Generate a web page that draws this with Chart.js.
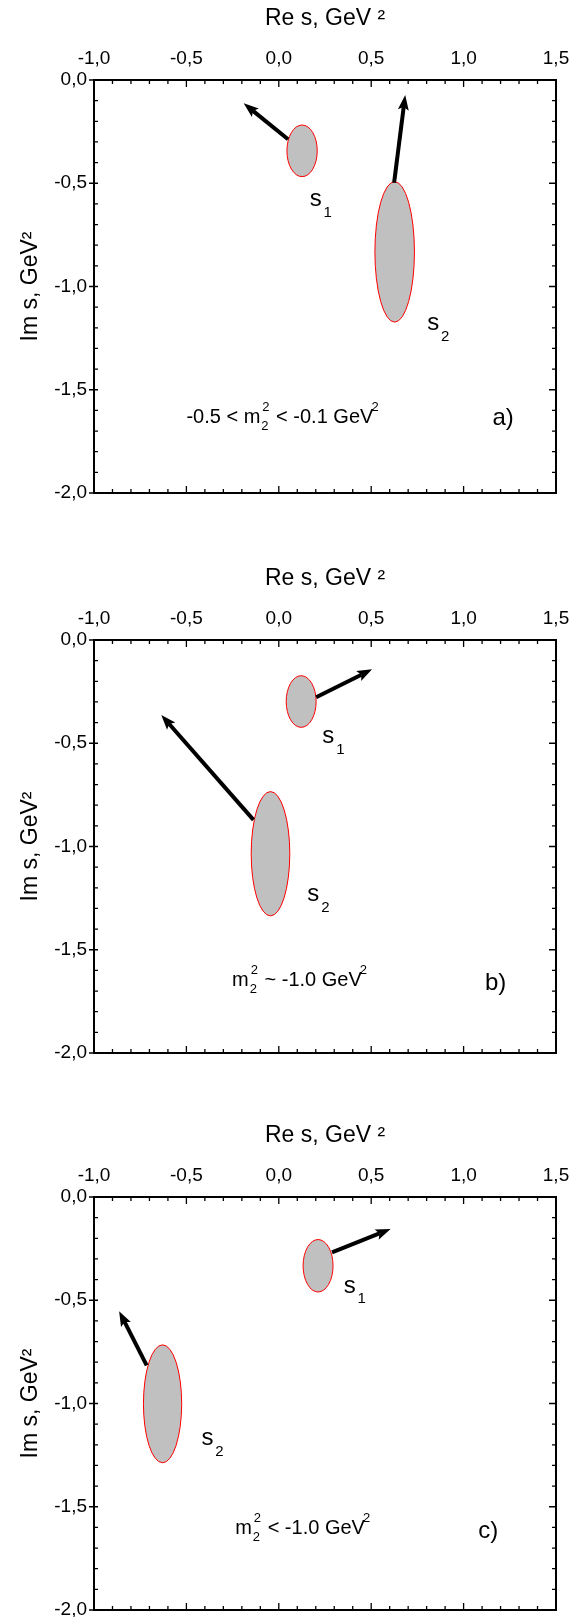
<!DOCTYPE html>
<html>
<head>
<meta charset="utf-8">
<script src="https://cdn.jsdelivr.net/npm/chart.js@4.4.1/dist/chart.umd.min.js"></script>
<style>
  body { margin: 0; background: #fff; width: 579px; height: 1617px; position: relative; overflow: hidden; }
  .panel { position: absolute; left: 0; width: 579px; height: 510px; }
</style>
</head>
<body>
<div class="panel" style="top:0px"><canvas id="pa" width="579" height="510"></canvas></div>
<div class="panel" style="top:560px"><canvas id="pb" width="579" height="510"></canvas></div>
<div class="panel" style="top:1117px"><canvas id="pc" width="579" height="510"></canvas></div>
<script>
// axis ranges (GeV^2)
const reRange = [-1.0, 1.5];
const imRange = [-2.0, 0.0];
const tickStep = 0.5;

// pole s1 region: centre and half-axes, one entry per panel a, b, c
const s1Re = [0.126, 0.121, 0.2125];
const s1Im = [-0.343, -0.298, -0.333];
const s1HalfRe = [0.082, 0.081, 0.081];
const s1HalfIm = [0.125, 0.125, 0.127];

// pole s2 region
const s2Re = [0.627, -0.045, -0.629];
const s2Im = [-0.8325, -1.035, -1.0015];
const s2HalfRe = [0.107, 0.1045, 0.1035];
const s2HalfIm = [0.340, 0.301, 0.2855];

// arrows [re, im]
const arrow1From = [[0.05, -0.287], [0.202, -0.277], [0.288, -0.268]];
const arrow1To = [[-0.19, -0.113], [0.505, -0.142], [0.605, -0.155]];
const arrow2From = [[0.624, -0.497], [-0.137, -0.871], [-0.715, -0.815]];
const arrow2To = [[0.684, -0.073], [-0.636, -0.363], [-0.864, -0.553]];

// text anchors [re, im]
const s1LabelAt = [[0.2, -0.58], [0.268, -0.468], [0.384, -0.432]];
const s2LabelAt = [[0.836, -1.18], [0.187, -1.234], [-0.386, -1.169]];
const noteAt = [[-0.5, -1.632], [-0.253, -1.648], [-0.236, -1.605]];
const tagAt = [[1.214, -1.64], [1.173, -1.665], [1.134, -1.621]];
const tags = ['a)', 'b)', 'c)'];
const notePre = ['-0.5 < m', 'm', 'm'];
const notePost = [' < -0.1 GeV', ' ~ -1.0 GeV', ' < -1.0 GeV'];

const FONT = '"Liberation Sans", Arial, Helvetica, sans-serif';
const fmt = v => Number(v).toFixed(1).replace('.', ',');

function drawArrow(ctx, x0, y0, x1, y1) {
    const dx = x1 - x0, dy = y1 - y0;
    const len = Math.hypot(dx, dy);
    const ux = dx / len, uy = dy / len;
    const hl = 15, hw = 5.5;
    const bx = x1 - ux * hl, by = y1 - uy * hl;
    ctx.lineWidth = 4;
    ctx.beginPath();
    ctx.moveTo(x0, y0);
    ctx.lineTo(bx + ux * 3, by + uy * 3);
    ctx.stroke();
    ctx.beginPath();
    ctx.moveTo(x1, y1);
    ctx.lineTo(bx - uy * hw, by + ux * hw);
    ctx.lineTo(bx + ux * 3, by + uy * 3);
    ctx.lineTo(bx + uy * hw, by - ux * hw);
    ctx.closePath();
    ctx.fill();
}

function drawS(ctx, px, py, idx) {
    ctx.font = '24px ' + FONT;
    ctx.textAlign = 'center';
    ctx.textBaseline = 'middle';
    ctx.fillText('s', px, py);
    ctx.font = '15px ' + FONT;
    ctx.fillText(String(idx), px + 12, py + 13);
}

// panel content: ellipses, arrows, labels
const marksPlugin = {
    id: 'marks',
    afterDatasetsDraw(chart) {
        const k = chart.options.panelIndex;
        const {ctx, scales: {x, y}} = chart;
        ctx.save();
        const ell = (cx, cy, hx, hy) => {
            const px = x.getPixelForValue(cx), py = y.getPixelForValue(cy);
            const rx = Math.abs(x.getPixelForValue(cx + hx) - px);
            const ry = Math.abs(y.getPixelForValue(cy + hy) - py);
            ctx.beginPath();
            ctx.ellipse(px, py, rx, ry, 0, 0, Math.PI * 2);
            ctx.fillStyle = '#c0c0c0';
            ctx.fill();
            ctx.strokeStyle = '#ff0000';
            ctx.lineWidth = 1;
            ctx.stroke();
        };
        ell(s1Re[k], s1Im[k], s1HalfRe[k], s1HalfIm[k]);
        ell(s2Re[k], s2Im[k], s2HalfRe[k], s2HalfIm[k]);

        ctx.strokeStyle = '#000';
        ctx.fillStyle = '#000';
        [[arrow1From[k], arrow1To[k]], [arrow2From[k], arrow2To[k]]].forEach(([a, b]) => {
            drawArrow(ctx, x.getPixelForValue(a[0]), y.getPixelForValue(a[1]),
                x.getPixelForValue(b[0]), y.getPixelForValue(b[1]));
        });

        drawS(ctx, x.getPixelForValue(s1LabelAt[k][0]), y.getPixelForValue(s1LabelAt[k][1]), 1);
        drawS(ctx, x.getPixelForValue(s2LabelAt[k][0]), y.getPixelForValue(s2LabelAt[k][1]), 2);

        // note with m_2^2 and GeV^2
        let nx = x.getPixelForValue(noteAt[k][0]);
        const ny = y.getPixelForValue(noteAt[k][1]);
        ctx.textAlign = 'left';
        ctx.textBaseline = 'middle';
        ctx.font = '20px ' + FONT;
        ctx.fillText(notePre[k], nx, ny);
        nx += ctx.measureText(notePre[k]).width;
        ctx.font = '13px ' + FONT;
        ctx.fillText('2', nx + 1, ny + 9);
        ctx.fillText('2', nx + 2, ny - 10);
        nx += ctx.measureText('2').width + 3;
        ctx.font = '20px ' + FONT;
        ctx.fillText(notePost[k], nx, ny);
        nx += ctx.measureText(notePost[k]).width;
        ctx.font = '13px ' + FONT;
        ctx.fillText('2', nx - 2, ny - 10);

        ctx.font = '24px ' + FONT;
        ctx.textAlign = 'center';
        ctx.fillText(tags[k], x.getPixelForValue(tagAt[k][0]), y.getPixelForValue(tagAt[k][1]));
        ctx.restore();
    }
};

// frame and minor/major tick marks
const framePlugin = {
    id: 'frame',
    afterDraw(chart) {
        const {ctx, chartArea: a, scales: {x, y}} = chart;
        ctx.save();
        ctx.strokeStyle = '#000';
        ctx.lineWidth = 2;
        ctx.strokeRect(a.left, a.top, a.right - a.left, a.bottom - a.top);
        ctx.lineWidth = 1.3;
        ctx.beginPath();
        for (let i = 0; i <= 25; i++) {
            const px = x.getPixelForValue(reRange[0] + i * 0.1);
            const len = i % 5 === 0 ? 7 : 4;
            ctx.moveTo(px, a.top); ctx.lineTo(px, a.top + len);
            ctx.moveTo(px, a.bottom); ctx.lineTo(px, a.bottom - len);
        }
        for (let i = 0; i <= 20; i++) {
            const py = y.getPixelForValue(imRange[1] - i * 0.1);
            const major = i % 5 === 0;
            ctx.moveTo(a.right, py); ctx.lineTo(a.right - (major ? 7 : 4), py);
            ctx.moveTo(a.left - (major ? 5 : 0), py); ctx.lineTo(a.left + 4, py);
        }
        ctx.stroke();
        ctx.restore();
    }
};

function noOverflow(s) {
    s.paddingTop = 0;
    s.paddingBottom = 0;
    s.paddingLeft = 0;
    s.paddingRight = 0;
}

function makePanel(id, k) {
    new Chart(document.getElementById(id), {
        type: 'scatter',
        data: {
            datasets: [{
                data: [{x: s1Re[k], y: s1Im[k]}, {x: s2Re[k], y: s2Im[k]}],
                pointRadius: 0
            }]
        },
        options: {
            panelIndex: k,
            responsive: false,
            animation: false,
            devicePixelRatio: 1,
            layout: {padding: {left: 0, right: 23, top: 0, bottom: 17}},
            plugins: {legend: {display: false}, tooltip: {enabled: false}},
            scales: {
                x: {
                    type: 'linear', position: 'top',
                    min: reRange[0], max: reRange[1],
                    afterFit: s => { s.height = 80; noOverflow(s); },
                    grid: {display: false, drawTicks: false},
                    border: {display: false},
                    ticks: {
                        stepSize: tickStep, autoSkip: false, maxRotation: 0, padding: 10,
                        color: '#000', font: {family: FONT, size: 19}, callback: fmt
                    },
                    title: {
                        display: true, text: 'Re s, GeV \u00b2', color: '#000',
                        font: {family: FONT, size: 23, lineHeight: 1.2}, padding: {top: 5, bottom: 0}
                    }
                },
                y: {
                    type: 'linear', position: 'left',
                    min: imRange[0], max: imRange[1],
                    afterFit: s => { s.width = 94; noOverflow(s); },
                    grid: {display: false, drawTicks: false},
                    border: {display: false},
                    ticks: {
                        stepSize: tickStep, autoSkip: false, padding: 7,
                        color: '#000', font: {family: FONT, size: 19}, callback: fmt
                    },
                    title: {
                        display: true, text: 'Im s, GeV\u00b2', color: '#000',
                        font: {family: FONT, size: 23, lineHeight: 1.2}, padding: {top: 17, bottom: 0}
                    }
                }
            }
        },
        plugins: [marksPlugin, framePlugin]
    });
}

makePanel('pa', 0);
makePanel('pb', 1);
makePanel('pc', 2);
</script>
</body>
</html>
